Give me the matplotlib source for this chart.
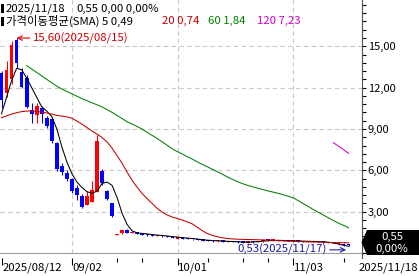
import numpy as np
import pandas as pd
import matplotlib.pyplot as plt
from matplotlib.patches import Polygon, Rectangle
from matplotlib.ticker import FixedLocator, MultipleLocator, FuncFormatter
from matplotlib.transforms import blended_transform_factory

plt.rcParams['font.family'] = ['Noto Sans CJK KR', 'DejaVu Sans']

# trading sessions 2025/08/12 .. 2025/11/18 (US market, Labor Day off)
dates = pd.bdate_range('2025-08-12', '2025-11-18')
dates = dates[dates != pd.Timestamp('2025-09-01')]

# daily candles
opens = [13.09, 11.64, 12.6, 15.45, 13.1, 12.7, 10.4, 10.04, 10.52, 9.8,
         9.7, 8.0, 6.28, 5.8, 5.35, 4.7, 4.16, 3.49, 3.73, 4.46,
         5.98, 4.5, 3.6, 1.28, 1.43, 1.7, 1.45, 1.5, 1.38, 1.33,
         1.3, 1.22, 1.3, 1.22, 1.16, 1.05, 1.12, 1.06, 1.03, 1.0,
         0.96, 0.92, 0.9, 0.84, 0.88, 0.82, 0.86, 0.82, 0.8, 0.76,
         0.82, 0.78, 0.84, 0.98, 0.9, 0.95, 0.86, 0.92, 0.85, 0.9,
         0.86, 0.8, 0.86, 0.8, 0.84, 0.8, 0.78, 0.62, 0.68, 0.6]
highs = [13.2, 13.9, 15.35, 15.6, 13.45, 12.9, 10.9, 10.9, 10.67, 9.92,
         9.85, 8.05, 6.55, 6.04, 5.45, 4.95, 4.25, 4.5, 5.19, 8.58,
         6.1, 4.55, 3.65, 1.4, 1.68, 1.72, 1.58, 1.52, 1.4, 1.36,
         1.33, 1.34, 1.32, 1.24, 1.18, 1.15, 1.14, 1.08, 1.05, 1.02,
         0.98, 0.94, 0.92, 0.9, 0.9, 0.88, 0.88, 0.84, 0.82, 0.84,
         0.84, 0.87, 0.98, 1.05, 1.02, 0.97, 0.94, 0.93, 0.93, 0.92,
         0.88, 0.88, 0.87, 0.86, 0.86, 0.82, 0.8, 0.73, 0.7, 0.62]
lows = [10.5, 11.3, 12.3, 13.45, 11.95, 10.5, 9.45, 9.45, 9.45, 9.1,
        7.98, 5.95, 5.65, 5.19, 4.35, 3.85, 3.3, 3.45, 3.7, 4.4,
        4.95, 3.85, 2.6, 1.27, 1.4, 1.42, 1.43, 1.35, 1.3, 1.24,
        1.22, 1.2, 1.17, 1.13, 1.08, 1.03, 1.03, 1.0, 0.96, 0.93,
        0.88, 0.86, 0.83, 0.82, 0.81, 0.8, 0.78, 0.76, 0.74, 0.75,
        0.76, 0.77, 0.83, 0.9, 0.88, 0.86, 0.85, 0.84, 0.83, 0.82,
        0.8, 0.79, 0.78, 0.78, 0.76, 0.73, 0.7, 0.6, 0.53, 0.54]
closes = [11.13, 13.31, 15.1, 13.82, 12.07, 10.62, 10.11, 10.64, 10.11, 9.19,
          8.1, 6.1, 5.88, 5.35, 4.5, 4.22, 3.35, 4.16, 4.58, 8.1,
          5.08, 3.9, 2.68, 1.32, 1.65, 1.45, 1.55, 1.38, 1.33, 1.27,
          1.25, 1.3, 1.2, 1.15, 1.1, 1.12, 1.05, 1.02, 0.98, 0.95,
          0.9, 0.88, 0.85, 0.88, 0.83, 0.86, 0.8, 0.78, 0.76, 0.82,
          0.78, 0.85, 0.95, 0.92, 0.98, 0.88, 0.92, 0.86, 0.9, 0.84,
          0.82, 0.86, 0.8, 0.84, 0.78, 0.75, 0.72, 0.7, 0.55, 0.55]

# moving averages as drawn
sma5 = [10.1, 11.3, 12.5, 13.4, 13.3, 12.7, 12.0, 11.3, 10.6, 10.3,
        9.9, 9.0, 7.7, 6.6, 5.75, 5.15, 4.75, 4.45, 4.33, 4.5,
        5.05, 5.15, 4.9, 4.0, 2.85, 2.05, 1.6, 1.46, 1.42, 1.38,
        1.34, 1.3, 1.27, 1.23, 1.19, 1.15, 1.11, 1.08, 1.05, 1.01,
        0.97, 0.93, 0.9, 0.88, 0.86, 0.85, 0.83, 0.81, 0.8, 0.79,
        0.8, 0.82, 0.86, 0.89, 0.91, 0.92, 0.91, 0.9, 0.89, 0.88,
        0.86, 0.85, 0.84, 0.83, 0.81, 0.78, 0.72, 0.65, 0.56, 0.49]
sma20 = [9.82, 9.95, 10.08, 10.18, 10.26, 10.3, 10.3, 10.28, 10.22, 10.16,
         10.08, 9.99, 9.93, 9.88, 9.78, 9.57, 9.35, 9.1, 8.85, 8.63,
         8.38, 8.05, 7.6, 7.05, 6.5, 5.85, 5.25, 4.75, 4.3, 3.92,
         3.58, 3.22, 2.95, 2.75, 2.6, 2.5, 2.38, 2.25, 2.1, 1.85,
         1.6, 1.4, 1.27, 1.17, 1.1, 1.05, 1.02, 1.0, 0.99, 0.98,
         0.97, 0.96, 0.95, 0.94, 0.92, 0.9, 0.88, 0.86, 0.85, 0.83,
         0.82, 0.81, 0.8, 0.79, 0.78, 0.77, 0.76, 0.75, 0.75, 0.74]
sma60_start = 5
sma60 = [13.6, 13.35, 13.1, 12.85, 12.6, 12.35, 12.1, 11.9, 11.72, 11.55,
         11.38, 11.2, 11.05, 10.9, 10.75, 10.6, 10.4, 10.2, 9.98, 9.75,
         9.52, 9.35, 9.17, 8.98, 8.75, 8.52, 8.3, 8.05, 7.8, 7.55,
         7.35, 7.17, 6.98, 6.8, 6.6, 6.42, 6.24, 6.06, 5.88, 5.7,
         5.5, 5.33, 5.17, 5.02, 4.9, 4.8, 4.7, 4.6, 4.5, 4.42,
         4.33, 4.23, 4.12, 4.0, 3.8, 3.58, 3.37, 3.15, 2.95, 2.75,
         2.55, 2.35, 2.17, 2.0, 1.84]
sma120_start = 66
sma120 = [8.0, 7.75, 7.5, 7.23]

month_ticks = [0, 14, 35, 58]
week_ticks = [23, 28, 41, 48, 53, 68]

RED, BLUE = '#ff0000', '#0000ff'
C20, C60, C120 = '#c00000', '#008000', '#d000d0'
GRID = '#c8c8c8'
W, H = 419, 276
FS = 8.2


def kfmt(v):
    return f"{v:.2f}".replace('.', ',')


fig = plt.figure(figsize=(W / 100, H / 100), dpi=100)
ax = fig.add_axes([0, 18 / H, 361.5 / W, 258 / H])
ax.set_xlim(-0.3, 71.57)
ax.set_ylim(-5 / 13.78, 253 / 13.78)

# grid
for v in [3, 6, 9, 12, 15]:
    ax.axhline(v, color=GRID, lw=0.8, dashes=(4, 3), zorder=0)
for t in month_ticks[1:]:
    ax.vlines(t, -0.02, 20, color=GRID, lw=0.8, linestyles=(0, (4, 3)), zorder=0)
ax.axhline(-0.02, color='#a0a0a0', lw=0.8, zorder=0)

# candles
x = np.arange(len(closes))
o, c = np.array(opens), np.array(closes)
col = np.where(c >= o, RED, BLUE)
ax.vlines(x, lows, highs, colors=col, lw=0.75, zorder=2)
ax.bar(x, np.maximum(np.abs(c - o), 0.08), bottom=np.minimum(o, c),
       width=0.74, color=col, lw=0, zorder=3)

# moving averages
ax.plot(x, sma5, color='black', lw=0.75, zorder=4)
ax.plot(x, sma20, color=C20, lw=0.75, zorder=4)
ax.plot(x[sma60_start:], sma60, color=C60, lw=0.75, zorder=4)
ax.plot(x[sma120_start:], sma120, color=C120, lw=0.75, zorder=4)

# axes style
for s in ['left', 'top', 'bottom']:
    ax.spines[s].set_visible(False)
ax.spines['right'].set_color('#505050')
ax.yaxis.tick_right()
ax.yaxis.set_major_locator(FixedLocator([3, 6, 9, 12, 15]))
ax.yaxis.set_minor_locator(MultipleLocator(0.6))
ax.yaxis.set_major_formatter(FuncFormatter(lambda v, p: kfmt(v)))
ax.tick_params(axis='y', which='both', direction='out', length=3, width=0.8,
               labelsize=8, pad=1.5)
ax.set_xticks(month_ticks)
ax.set_xticks(week_ticks, minor=True)
ax.set_xticklabels([])
ax.tick_params(axis='x', which='major', length=5, width=0.8)
ax.tick_params(axis='x', which='minor', length=3, width=0.8)

# date labels
tr = blended_transform_factory(ax.transData, fig.transFigure)
for i, t in enumerate(month_ticks):
    lab = dates[t].strftime('%Y/%m/%d') if i == 0 else dates[t].strftime('%m/%d')
    ax.text(t + 0.15, 8.5 / H, lab, transform=tr, ha='left', va='center',
            fontsize=FS, clip_on=False)
fig.text(418 / W, 8.5 / H, dates[-1].strftime('%Y/%m/%d'), ha='right', va='center',
         fontsize=FS)

# high / low markers
hi = int(np.argmax(highs))
ax.annotate(f"{kfmt(highs[hi])}({dates[hi].strftime('%Y/%m/%d')})",
            xy=(hi, highs[hi]), xytext=(16, 0), textcoords='offset pixels',
            ha='left', va='center', color='#d00000', fontsize=FS,
            arrowprops=dict(arrowstyle='->', color='#d00000', lw=0.8,
                            shrinkA=0, shrinkB=0))
lo = int(np.argmin(lows))
ax.annotate(f"{kfmt(lows[lo])}({dates[lo].strftime('%Y/%m/%d')})",
            xy=(lo + 0.5, lows[lo] - 0.3), xytext=(-19, 0), textcoords='offset pixels',
            ha='right', va='center', color='#1c1caa', fontsize=FS,
            arrowprops=dict(arrowstyle='->', color='#1c1caa', lw=0.8,
                            shrinkA=0, shrinkB=0))

# header
def px(xp, yp):
    return xp / W, 1 - yp / H

for yy in [4, 17]:
    fig.add_artist(Rectangle(px(1, yy + 9), 2.5 / W, 9 / H, transform=fig.transFigure,
                             color='black', lw=0))
chg = closes[-1] - closes[-2]
fig.text(*px(6, 8.5), dates[-1].strftime('%Y/%m/%d'), va='center', fontsize=FS)
fig.text(*px(76, 8.5), kfmt(closes[-1]), va='center', fontsize=FS)
fig.text(*px(101, 8.5), f"{kfmt(chg)} {kfmt(chg / closes[-2] * 100)}%", va='center',
         fontsize=FS)
fig.text(*px(6, 21), f"가격이동평균(SMA) 5 {kfmt(sma5[-1])}", va='center', fontsize=FS)
fig.text(*px(162, 21), f"20 {kfmt(sma20[-1])}", va='center', fontsize=FS, color=C20)
fig.text(*px(208, 21), f"60 {kfmt(sma60[-1])}", va='center', fontsize=FS, color=C60)
fig.text(*px(257, 21), f"120 {kfmt(sma120[-1])}", va='center', fontsize=FS, color=C120)

# last price box on the axis
fig.canvas.draw()
yc = H - ax.transData.transform((0, closes[-1]))[1]
yc = min(yc, 242.5)
box = [px(361.5, yc), px(367, yc - 12.5), px(419, yc - 12.5),
       px(419, yc + 12.5), px(367, yc + 12.5)]
fig.add_artist(Polygon(box, closed=True, transform=fig.transFigure,
                       facecolor='black', edgecolor='black', lw=0))
fig.text(*px(392, yc - 5.5), kfmt(closes[-1]), color='white', ha='center',
         va='center', fontsize=FS)
fig.text(*px(392, yc + 6.5), f"{kfmt(chg / closes[-2] * 100)}%", color='white',
         ha='center', va='center', fontsize=FS)

fig.savefig('out.png', dpi=100)
